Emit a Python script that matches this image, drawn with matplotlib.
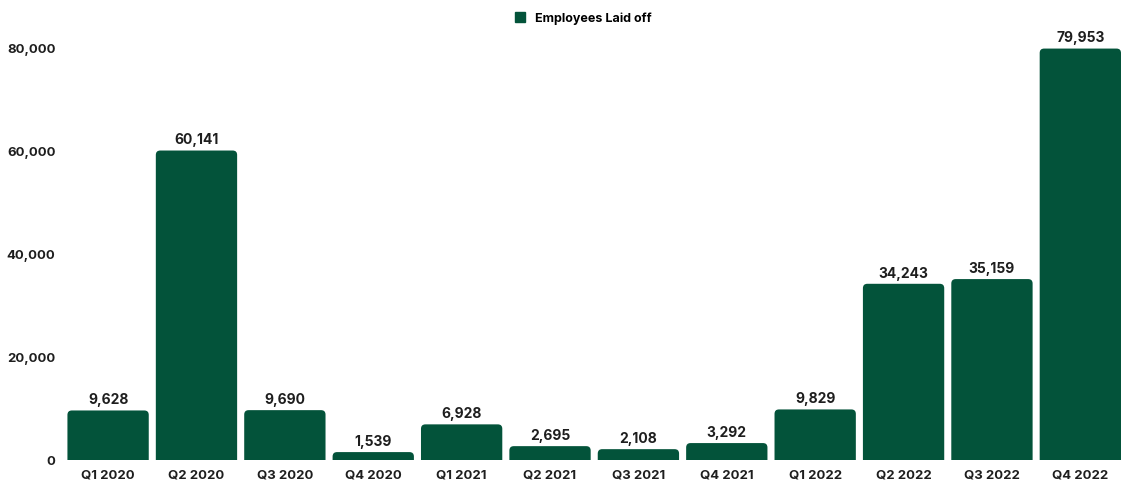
import matplotlib.pyplot as plt
from matplotlib.patches import FancyBboxPatch
from matplotlib.ticker import FuncFormatter

quarters = ['Q1 2020', 'Q2 2020', 'Q3 2020', 'Q4 2020',
            'Q1 2021', 'Q2 2021', 'Q3 2021', 'Q4 2021',
            'Q1 2022', 'Q2 2022', 'Q3 2022', 'Q4 2022']
laid_off = [9628, 60141, 9690, 1539, 6928, 2695, 2108, 3292, 9829, 34243, 35159, 79953]
yticks = [0, 20000, 40000, 60000, 80000]

green = '#03533a'
txt = '#1e1e1e'
plt.rcParams['font.family'] = ['Inter', 'DejaVu Sans']
plt.rcParams['font.weight'] = 'bold'

fig = plt.figure(figsize=(11.21, 4.83), dpi=100)
ax = fig.add_axes([0.057, 0.0476, 0.943, 0.863])

x = list(range(len(quarters)))
bars = ax.bar(x, laid_off, width=0.92, color=green, label='Employees Laid off')
ax.set_xlim(-0.5, len(quarters) - 1 + 0.46)
ax.set_ylim(0, 81000)

# swap plain bars for ones with rounded top corners
fig.canvas.draw()
px_x = ax.transData.transform((1, 0))[0] - ax.transData.transform((0, 0))[0]
px_y = ax.transData.transform((0, 1))[1] - ax.transData.transform((0, 0))[1]
aspect = px_x / px_y
r = 0.05
for b in bars:
    b.set_visible(False)
    bx, bw, bh = b.get_x(), b.get_width(), b.get_height()
    p = FancyBboxPatch((bx + r, -r * aspect * 2), bw - 2 * r, bh + r * aspect * 2 - r * aspect,
                       boxstyle=f'round,pad={r},rounding_size={r}',
                       mutation_aspect=aspect, fc=green, ec='none')
    ax.add_patch(p)
    ax.text(bx + bw / 2, bh + 600, f'{bh:,.0f}', ha='center', va='bottom',
            fontsize=10, fontweight='bold', color=txt)

ax.set_xticks(x)
ax.set_xticklabels(quarters)
ax.set_yticks(yticks)
ax.yaxis.set_major_formatter(FuncFormatter(lambda v, p: f'{v:,.0f}'))
ax.tick_params(axis='both', length=0, labelsize=9.5, labelcolor=txt)
ax.tick_params(axis='x', pad=7)
ax.tick_params(axis='y', pad=6)
for s in ax.spines.values():
    s.set_visible(False)

leg_handle = plt.Rectangle((0, 0), 1, 1, color=green)
fig.legend([leg_handle], ['Employees Laid off'], loc='center', bbox_to_anchor=(0.52, 0.962),
           frameon=False, handlelength=0.8, handleheight=0.8, handletextpad=0.8,
           prop={'size': 9, 'weight': 'bold'})

fig.savefig('out.png', dpi=100, facecolor='white')
